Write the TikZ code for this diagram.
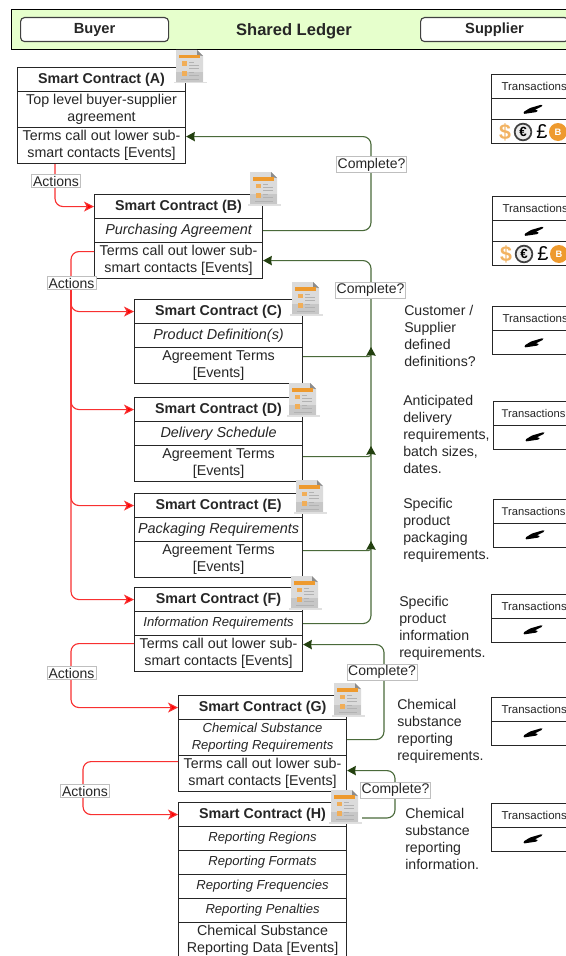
\documentclass[tikz,border=0pt]{standalone}
\usepackage{fontspec}
\setmainfont{Liberation Sans}
\usetikzlibrary{arrows.meta,calc}
\definecolor{ledgerfill}{HTML}{E6FFCC}
\definecolor{okline}{HTML}{4A6A3A}
\definecolor{oktip}{HTML}{23400F}
\definecolor{txt}{HTML}{262626}
\definecolor{actred}{HTML}{F83030}
\definecolor{iconorange}{HTML}{EE9A2E}
\tikzset{
  rowbox/.style={draw=black!85,line width=0.85pt,fill=white,minimum width=126pt,anchor=north west,inner sep=0pt,align=center,text=txt,font=\fontsize{10.7}{12.75}\selectfont},
  h1/.style={minimum height=18pt},
  h2/.style={minimum height=27pt},
  titlerow/.style={rowbox,h1,font=\fontsize{10.7}{12.75}\selectfont\bfseries},
  itrow/.style={rowbox,h1,font=\fontsize{10.8}{12.75}\selectfont\itshape},
  smallit/.style={font=\fontsize{9.8}{12.75}\selectfont\itshape},
  sidenote/.style={anchor=west,inner sep=0pt,align=left,text=txt,font=\fontsize{10.6}{12.75}\selectfont},
  actline/.style={draw=actred,line width=0.85pt,rounded corners=6pt,-{Stealth[length=7.5pt,width=7.5pt,inset=2pt,fill=red]}},
  okarrow/.style={draw=okline,line width=0.85pt,rounded corners=6pt,-{Stealth[length=6.5pt,width=7pt,inset=0.5pt,fill=oktip,color=oktip]}},
  okbranch/.style={okarrow,rounded corners=2pt},
  tag/.style={draw=black!25,line width=0.4pt,fill=white,inner sep=1pt,text=txt,font=\fontsize{10.5}{12}\selectfont},
  topbtn/.style={draw=black!75,line width=0.85pt,rounded corners=3pt,fill=white,anchor=north west,minimum width=111pt,minimum height=18pt,inner sep=0pt,text=txt,font=\fontsize{11}{12}\selectfont\bfseries},
  txhead/.style={draw=black!85,line width=0.75pt,fill=white,anchor=north west,inner sep=0pt,minimum width=64pt,minimum height=18pt,text=txt,font=\fontsize{8.6}{10}\selectfont},
  txnarrow/.style={txhead,minimum width=60pt,font=\fontsize{8.4}{10}\selectfont},
  txrow/.style={txhead,minimum height=16pt},
  docicon/.pic={
    \fill[black!12] (-2,32) rectangle (31,33.5);
    \fill[black!14] (0,0) -- (21,0) -- (27,6) -- (27,32) -- (0,32) -- cycle;
    \fill[black!22] (0,22) rectangle (27,32);
    \fill[black!45] (21,0) -- (27,6) -- (21,5) -- cycle;
    \fill[iconorange] (3,5) rectangle (24,8.5);
    \fill[iconorange!80] (6,11.5) rectangle (11,16);
    \fill[iconorange!80] (6,21) rectangle (11,26);
    \draw[black!30,line width=0.5pt] (13,12) -- (18,12) (13,15) -- (23,15) (13,18) -- (23,18) (13,22) -- (18,22) (13,25) -- (23,25) (5,29) -- (23,29);
  },
  signmark/.pic={
    \fill[black,rounded corners=0.8pt] (-9.5,2.5) -- (-3,-1.5) -- (9,-5) -- (9.5,-3.5) -- (1.5,0.5) -- (5,0.5) -- (4,2.5) -- (-9.5,4.5) -- cycle;
  },
}
\begin{document}
\begin{tikzpicture}[x=0.75pt,y=-0.75pt]
\useasboundingbox (0,0) rectangle (566,956);
\clip (0,0) rectangle (566,956);
% top banner
\node[draw=black,line width=0.85pt,fill=ledgerfill,anchor=north west,inner sep=0pt,minimum width=450pt,minimum height=30pt] (ledger) at (11,9) {};
\node[text=txt,inner sep=0pt,font=\fontsize{12.4}{14}\selectfont\bfseries] (ledgertitle) at (294,31) {Shared Ledger};
\node[topbtn] (buyer) at (20,17) {Buyer};
\node[topbtn] (supplier) at (420,17) {Supplier};
% contract A
\node[titlerow] (A1) at (17,67) {Smart Contract (A)};
\node[rowbox,h2] (A2) at (17,91) {Top level buyer-supplier\\agreement};
\node[rowbox,h2] (A3) at (17,127) {Terms call out lower sub-\\smart contacts [Events]};
% contract B
\node[titlerow] (B1) at (94,194) {Smart Contract (B)};
\node[itrow] (B2) at (94,218) {Purchasing Agreement};
\node[rowbox,h2] (B3) at (94,242) {Terms call out lower sub-\\smart contacts [Events]};
% contract C
\node[titlerow] (C1) at (134,299) {Smart Contract (C)};
\node[itrow] (C2) at (134,323) {Product Definition(s)};
\node[rowbox,h2] (C3) at (134,347) {Agreement Terms\\{[Events]}};
% contract D
\node[titlerow] (D1) at (134,397) {Smart Contract (D)};
\node[itrow] (D2) at (134,421) {Delivery Schedule};
\node[rowbox,h2] (D3) at (134,445) {Agreement Terms\\{[Events]}};
% contract E
\node[titlerow] (E1) at (134,493) {Smart Contract (E)};
\node[itrow] (E2) at (134,517) {Packaging Requirements};
\node[rowbox,h2] (E3) at (134,541) {Agreement Terms\\{[Events]}};
% contract F
\node[titlerow] (F1) at (134,587) {Smart Contract (F)};
\node[itrow,smallit] (F2) at (134,611) {Information Requirements};
\node[rowbox,h2] (F3) at (134,635) {Terms call out lower sub-\\smart contacts [Events]};
% contract G
\node[titlerow] (G1) at (178,695) {Smart Contract (G)};
\node[rowbox,h2,smallit] (G2) at (178,719) {Chemical Substance\\Reporting Requirements};
\node[rowbox,h2] (G3) at (178,755) {Terms call out lower sub-\\smart contacts [Events]};
% contract H
\node[titlerow] (H1) at (178,802) {Smart Contract (H)};
\node[itrow,smallit] (H2) at (178,826) {Reporting Regions};
\node[itrow,smallit] (H3) at (178,850) {Reporting Formats};
\node[itrow,smallit] (H4) at (178,874) {Reporting Frequencies};
\node[itrow,smallit] (H5) at (178,898) {Reporting Penalties};
\node[rowbox,h2] (H6) at (178,922) {Chemical Substance\\Reporting Data [Events]};
% icons
\pic at (176,50) {docicon};
\pic at (250,172) {docicon};
\pic at (292,282) {docicon};
\pic at (289,383) {docicon};
\pic at (296,480) {docicon};
\pic at (291,576) {docicon};
\pic at (334,683) {docicon};
\pic at (331,790) {docicon};
% action connectors
\coordinate (busCtop) at (71,290);
\draw[actline] ([xshift=28.5pt]A3.south west) |- (B1.west);
\draw[actline] ([yshift=6.75pt]B3.west) -| (busCtop) |- (F1.west);
\draw[actline] (busCtop) |- (C1.west);
\draw[actline] (busCtop) |- (D1.west);
\draw[actline] (busCtop) |- (E1.west);
\coordinate (busF) at (71,670);
\draw[actline] ([yshift=7.5pt]F3.west) -| (busF) |- (G1.west);
\coordinate (busG) at (83,790);
\draw[actline] ([yshift=9pt]G3.west) -| (busG) |- (H1.west);
% completion connectors
\coordinate (trunkA) at (371,170);
\coordinate (trunkB) at (371,290);
\coordinate (trunkC) at (371,347);
\coordinate (trunkD) at (371,446);
\coordinate (trunkE) at (371,541);
\coordinate (trunkG) at (384,680);
\coordinate (trunkH) at (395,790);
\coordinate (hstart) at (362,818);
\draw[okarrow] (B2.east) -| (trunkA) |- ([yshift=6.75pt]A3.east);
\draw[okarrow] (F2.east) -| (trunkB) |- (B3.east);
\draw[okbranch] ([yshift=6.75pt]C3.east) -| (trunkC);
\draw[okbranch] ([yshift=5.25pt]D3.east) -| (trunkD);
\draw[okbranch] ([yshift=6.75pt]E3.east) -| (trunkE);
\draw[okarrow] ([yshift=-1.5pt]G2.east) -| (trunkG) |- ([yshift=6.75pt]F3.east);
\draw[okarrow] (hstart) -| (trunkH) |- ([yshift=2.25pt]G3.east);
% labels
\node[tag] (act1) at (56,181) {Actions};
\node[tag] (act2) at (71.5,283) {Actions};
\node[tag] (act3) at (71.5,673) {Actions};
\node[tag] (act4) at (85,791) {Actions};
\node[tag] (cmp1) at (371.5,164.5) {Complete?};
\node[tag] (cmp2) at (370.5,290) {Complete?};
\node[tag] (cmp3) at (382,672) {Complete?};
\node[tag] (cmp4) at (395.5,790) {Complete?};
% side notes
\node[sidenote] (nC) at (404,336) {Customer /\\Supplier\\defined\\definitions?};
\node[sidenote] (nD) at (403,434) {Anticipated\\delivery\\requirements,\\batch sizes,\\dates.};
\node[sidenote] (nE) at (403,530) {Specific\\product\\packaging\\requirements.};
\node[sidenote] (nF) at (399,628) {Specific\\product\\information\\requirements.};
\node[sidenote] (nG) at (397,731) {Chemical\\substance\\reporting\\requirements.};
\node[sidenote] (nH) at (405,839) {Chemical\\substance\\reporting\\information.};
% transaction boxes
\node[txhead] (T1) at (491,74) {Transactions};
\node[txrow] (T1s) at (491,98) {};
\node[txrow,minimum height=18pt] (T1c) at (491,119) {};
\node[txhead] (T2) at (492,196) {Transactions};
\node[txrow] (T2s) at (492,220) {};
\node[txrow,minimum height=18pt] (T2c) at (492,241) {};
\node[txhead] (T3) at (492,306) {Transactions};
\node[txrow,minimum height=18pt] (T3s) at (492,330) {};
\node[txnarrow] (T4) at (493,401) {Transactions};
\node[txrow,minimum height=18pt] (T4s) at (493,425) {};
\node[txnarrow] (T5) at (493,499) {Transactions};
\node[txrow,minimum height=18pt] (T5s) at (493,523) {};
\node[txhead] (T6) at (491,594) {Transactions};
\node[txrow,minimum height=18pt] (T6s) at (491,618) {};
\node[txhead] (T7) at (491,697) {Transactions};
\node[txrow,minimum height=18pt] (T7s) at (491,721) {};
\node[txhead] (T8) at (491,803) {Transactions};
\node[txrow,minimum height=18pt] (T8s) at (491,827) {};
% signature marks
\pic at (533,109.5) {signmark};
\pic at (534,231.5) {signmark};
\pic at (534,343) {signmark};
\pic at (535,437) {signmark};
\pic at (535,535) {signmark};
\pic at (533,630) {signmark};
\pic at (533,733) {signmark};
\pic at (533,839) {signmark};
% coins
\foreach \cy/\ox/\nm in {132/0/a,254/1/b}{
  \node[inner sep=0pt,text=iconorange!75,font=\fontsize{16}{16}\selectfont\bfseries] (dol\nm) at (505+\ox,\cy) {\$};
  \node[circle,draw=black!75,line width=1.3pt,fill=black!8,minimum size=12.5pt,inner sep=0pt,text=black,font=\fontsize{10}{10}\selectfont\bfseries] (eur\nm) at (523+\ox,\cy) {€};
  \node[inner sep=0pt,text=black,font=\fontsize{15}{15}\selectfont] (gbp\nm) at (542+\ox,\cy) {£};
  \node[circle,fill=iconorange,minimum size=13.5pt,inner sep=0pt,text=white,font=\fontsize{7}{7}\selectfont\bfseries] (btc\nm) at (558+\ox,\cy) {B};
}
\end{tikzpicture}
\end{document}
